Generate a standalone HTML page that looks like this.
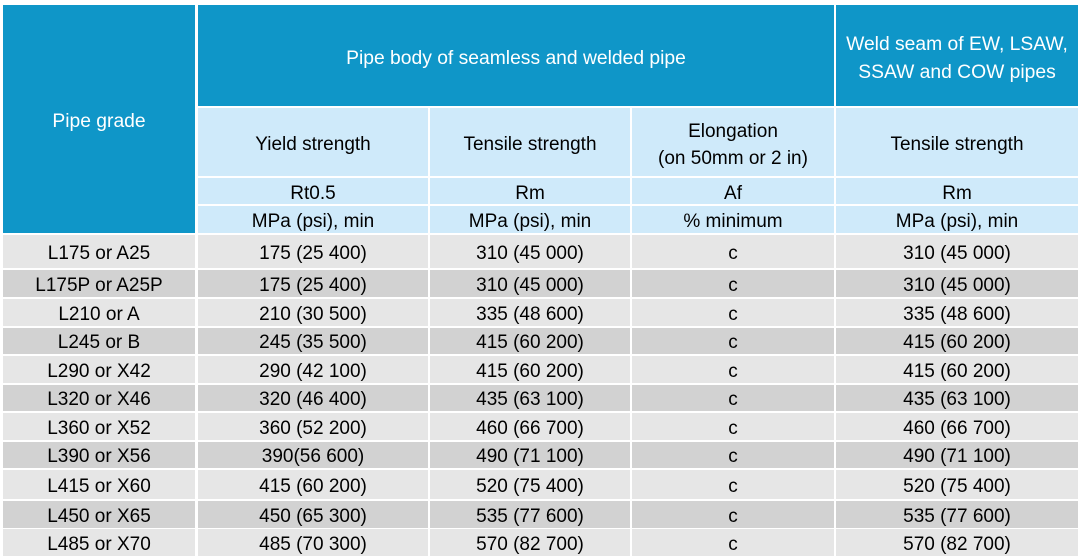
<!DOCTYPE html>
<html>
<head>
<meta charset="utf-8">
<style>
  html,body{margin:0;padding:0;background:#fff;}
  body{width:1082px;height:558px;position:relative;overflow:hidden;
       font-family:"Liberation Sans",Arial,sans-serif;}
  .c{position:absolute;display:flex;align-items:center;justify-content:center;
     text-align:center;box-sizing:border-box;padding-top:5px;font-size:19px;color:#000;white-space:nowrap;}
  .b{background:#0f96c8;color:#fff;font-size:19.3px;}
  .l{background:#cfeafa;}
  .g1{background:#e6e6e6;}
  .g2{background:#d2d2d2;}
  .two{line-height:28px;white-space:normal;}
</style>
</head>
<body>
<!-- header blue -->
<div class="c b" style="left:3px;top:5px;width:192px;height:228px;padding-top:6px;">Pipe grade</div>
<div class="c b" style="left:198px;top:5px;width:636px;height:101px;padding-top:6px;">Pipe body of seamless and welded pipe</div>
<div class="c b two" style="left:836px;top:5px;width:242px;height:101px;padding-top:6px;">Weld seam of EW, LSAW,<br>SSAW and COW pipes</div>

<!-- header light row 1 -->
<div class="c l" style="left:198px;top:108px;width:230px;height:68px;">Yield strength</div>
<div class="c l" style="left:430px;top:108px;width:200px;height:68px;">Tensile strength</div>
<div class="c l" style="left:632px;top:108px;width:202px;height:68px;line-height:27px;white-space:normal;padding-top:5px;">Elongation<br>(on 50mm or 2 in)</div>
<div class="c l" style="left:836px;top:108px;width:242px;height:68px;">Tensile strength</div>

<!-- header light row 2 -->
<div class="c l" style="left:198px;top:178px;width:230px;height:26px;">Rt0.5</div>
<div class="c l" style="left:430px;top:178px;width:200px;height:26px;">Rm</div>
<div class="c l" style="left:632px;top:178px;width:202px;height:26px;">Af</div>
<div class="c l" style="left:836px;top:178px;width:242px;height:26px;">Rm</div>

<!-- header light row 3 -->
<div class="c l" style="left:198px;top:206px;width:230px;height:27px;">MPa (psi), min</div>
<div class="c l" style="left:430px;top:206px;width:200px;height:27px;">MPa (psi), min</div>
<div class="c l" style="left:632px;top:206px;width:202px;height:27px;">% minimum</div>
<div class="c l" style="left:836px;top:206px;width:242px;height:27px;">MPa (psi), min</div>

<!-- data rows -->
<div class="c g1" style="left:3px;top:235px;width:192px;height:33px;">L175 or A25</div>
<div class="c g1" style="left:198px;top:235px;width:230px;height:33px;">175 (25 400)</div>
<div class="c g1" style="left:430px;top:235px;width:200px;height:33px;">310 (45 000)</div>
<div class="c g1" style="left:632px;top:235px;width:202px;height:33px;">c</div>
<div class="c g1" style="left:836px;top:235px;width:242px;height:33px;">310 (45 000)</div>

<div class="c g2" style="left:3px;top:270px;width:192px;height:27px;">L175P or A25P</div>
<div class="c g2" style="left:198px;top:270px;width:230px;height:27px;">175 (25 400)</div>
<div class="c g2" style="left:430px;top:270px;width:200px;height:27px;">310 (45 000)</div>
<div class="c g2" style="left:632px;top:270px;width:202px;height:27px;">c</div>
<div class="c g2" style="left:836px;top:270px;width:242px;height:27px;">310 (45 000)</div>

<div class="c g1" style="left:3px;top:299px;width:192px;height:26.5px;">L210 or A</div>
<div class="c g1" style="left:198px;top:299px;width:230px;height:26.5px;">210 (30 500)</div>
<div class="c g1" style="left:430px;top:299px;width:200px;height:26.5px;">335 (48 600)</div>
<div class="c g1" style="left:632px;top:299px;width:202px;height:26.5px;">c</div>
<div class="c g1" style="left:836px;top:299px;width:242px;height:26.5px;">335 (48 600)</div>

<div class="c g2" style="left:3px;top:327.5px;width:192px;height:26.5px;">L245 or B</div>
<div class="c g2" style="left:198px;top:327.5px;width:230px;height:26.5px;">245 (35 500)</div>
<div class="c g2" style="left:430px;top:327.5px;width:200px;height:26.5px;">415 (60 200)</div>
<div class="c g2" style="left:632px;top:327.5px;width:202px;height:26.5px;">c</div>
<div class="c g2" style="left:836px;top:327.5px;width:242px;height:26.5px;">415 (60 200)</div>

<div class="c g1" style="left:3px;top:356px;width:192px;height:26.5px;">L290 or X42</div>
<div class="c g1" style="left:198px;top:356px;width:230px;height:26.5px;">290 (42 100)</div>
<div class="c g1" style="left:430px;top:356px;width:200px;height:26.5px;">415 (60 200)</div>
<div class="c g1" style="left:632px;top:356px;width:202px;height:26.5px;">c</div>
<div class="c g1" style="left:836px;top:356px;width:242px;height:26.5px;">415 (60 200)</div>

<div class="c g2" style="left:3px;top:384.5px;width:192px;height:26.5px;">L320 or X46</div>
<div class="c g2" style="left:198px;top:384.5px;width:230px;height:26.5px;">320 (46 400)</div>
<div class="c g2" style="left:430px;top:384.5px;width:200px;height:26.5px;">435 (63 100)</div>
<div class="c g2" style="left:632px;top:384.5px;width:202px;height:26.5px;">c</div>
<div class="c g2" style="left:836px;top:384.5px;width:242px;height:26.5px;">435 (63 100)</div>

<div class="c g1" style="left:3px;top:413px;width:192px;height:26.5px;">L360 or X52</div>
<div class="c g1" style="left:198px;top:413px;width:230px;height:26.5px;">360 (52 200)</div>
<div class="c g1" style="left:430px;top:413px;width:200px;height:26.5px;">460 (66 700)</div>
<div class="c g1" style="left:632px;top:413px;width:202px;height:26.5px;">c</div>
<div class="c g1" style="left:836px;top:413px;width:242px;height:26.5px;">460 (66 700)</div>

<div class="c g2" style="left:3px;top:441.5px;width:192px;height:26.5px;">L390 or X56</div>
<div class="c g2" style="left:198px;top:441.5px;width:230px;height:26.5px;">390(56 600)</div>
<div class="c g2" style="left:430px;top:441.5px;width:200px;height:26.5px;">490 (71 100)</div>
<div class="c g2" style="left:632px;top:441.5px;width:202px;height:26.5px;">c</div>
<div class="c g2" style="left:836px;top:441.5px;width:242px;height:26.5px;">490 (71 100)</div>

<div class="c g1" style="left:3px;top:470px;width:192px;height:29px;">L415 or X60</div>
<div class="c g1" style="left:198px;top:470px;width:230px;height:29px;">415 (60 200)</div>
<div class="c g1" style="left:430px;top:470px;width:200px;height:29px;">520 (75 400)</div>
<div class="c g1" style="left:632px;top:470px;width:202px;height:29px;">c</div>
<div class="c g1" style="left:836px;top:470px;width:242px;height:29px;">520 (75 400)</div>

<div class="c g2" style="left:3px;top:501px;width:192px;height:26.5px;">L450 or X65</div>
<div class="c g2" style="left:198px;top:501px;width:230px;height:26.5px;">450 (65 300)</div>
<div class="c g2" style="left:430px;top:501px;width:200px;height:26.5px;">535 (77 600)</div>
<div class="c g2" style="left:632px;top:501px;width:202px;height:26.5px;">c</div>
<div class="c g2" style="left:836px;top:501px;width:242px;height:26.5px;">535 (77 600)</div>

<div class="c g1" style="left:3px;top:529px;width:192px;height:26.5px;">L485 or X70</div>
<div class="c g1" style="left:198px;top:529px;width:230px;height:26.5px;">485 (70 300)</div>
<div class="c g1" style="left:430px;top:529px;width:200px;height:26.5px;">570 (82 700)</div>
<div class="c g1" style="left:632px;top:529px;width:202px;height:26.5px;">c</div>
<div class="c g1" style="left:836px;top:529px;width:242px;height:26.5px;">570 (82 700)</div>
</body>
</html>
